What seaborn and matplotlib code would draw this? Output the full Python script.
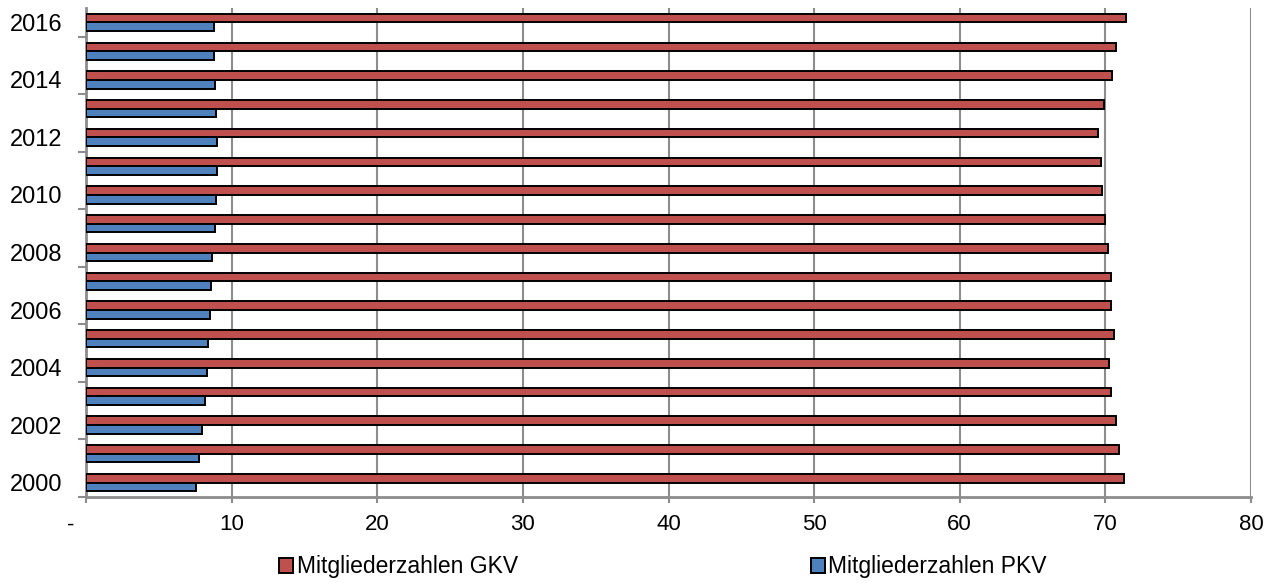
import matplotlib
matplotlib.use("Agg")
import matplotlib.pyplot as plt
import matplotlib.transforms as mtransforms
from matplotlib.ticker import FixedLocator
import numpy as np
import pandas as pd
import seaborn as sns

# Mitgliederzahlen in Millionen, Jahre 2000 bis 2016
years = [2000, 2001, 2002, 2003, 2004, 2005, 2006, 2007, 2008,
         2009, 2010, 2011, 2012, 2013, 2014, 2015, 2016]
gkv = [71.25, 70.96, 70.76, 70.40, 70.25, 70.56, 70.36, 70.36, 70.20,
       70.00, 69.80, 69.70, 69.50, 69.93, 70.46, 70.70, 71.40]
pkv = [7.54, 7.74, 7.95, 8.14, 8.30, 8.39, 8.51, 8.58, 8.67,
       8.85, 8.94, 9.01, 8.99, 8.94, 8.87, 8.80, 8.78]
series_names = ["Mitgliederzahlen GKV", "Mitgliederzahlen PKV"]
x_ticks = [0, 10, 20, 30, 40, 50, 60, 70, 80]
x_tick_labels = ["-", "10", "20", "30", "40", "50", "60", "70", "80"]

colors = ["#C0504D", "#4F81BD"]
grid_gray = "#8C8C8C"

sns.set_theme(style="white")
plt.rcParams["font.family"] = ["Liberation Sans", "DejaVu Sans"]
plt.rcParams["text.color"] = "black"
plt.rcParams["xtick.color"] = "black"
plt.rcParams["ytick.color"] = "black"

df = pd.DataFrame({
    "Jahr": [str(y) for y in years] * 2,
    "Wert": gkv + pkv,
    "Reihe": [series_names[0]] * len(years) + [series_names[1]] * len(years),
})
order = [str(y) for y in reversed(years)]

fig = plt.figure(figsize=(12.71, 5.83), dpi=100)
ax = fig.add_axes([86 / 1271, 1 - 497 / 583, (1251 - 86) / 1271, (497 - 8) / 583])

sns.barplot(data=df, y="Jahr", x="Wert", hue="Reihe", order=order,
            hue_order=series_names, palette=colors, saturation=1, orient="h",
            width=0.6, edgecolor="black", linewidth=1.4, ax=ax,
            errorbar=None, zorder=3)

ax.set_xlim(0, 80)
ax.set_ylim(len(order) - 0.5, -0.5)
ax.set_xlabel("")
ax.set_ylabel("")

# x axis
ax.set_xticks(x_ticks)
ax.set_xticklabels(x_tick_labels, fontsize=16, color="black")
ax.tick_params(axis="x", which="major", direction="out", length=4.5,
               width=1.5, color=grid_gray, labelcolor="black", pad=8, bottom=True)
zero_lbl = ax.get_xticklabels()[0]
zero_lbl.set_transform(zero_lbl.get_transform() +
                       mtransforms.ScaledTranslation(-15 / 100, 0, fig.dpi_scale_trans))
ax.xaxis.grid(True, color=grid_gray, linewidth=1.5, zorder=0)
ax.yaxis.grid(False)
ax.set_axisbelow(True)

# y axis: labels on every second year, ticks between category groups
label_pos = [i for i, y in enumerate(order) if int(y) % 2 == 0]
ax.set_yticks(label_pos)
ax.set_yticklabels([order[i] for i in label_pos], fontsize=17, color="black")
ax.tick_params(axis="y", which="major", length=0, pad=17, labelcolor="black")
ax.yaxis.set_minor_locator(FixedLocator([p + 0.5 for p in label_pos]))
ax.tick_params(axis="y", which="minor", direction="out", length=6,
               width=1.5, color=grid_gray, left=True)

for side in ["top", "right"]:
    ax.spines[side].set_visible(False)
for side in ["left", "bottom"]:
    ax.spines[side].set_color(grid_gray)
    ax.spines[side].set_linewidth(2)

# legend below the plot
handles, labels = ax.get_legend_handles_labels()
ax.get_legend().remove()
leg = fig.legend(handles, labels, loc="center",
                 bbox_to_anchor=(663 / 1271, 1 - 567 / 583),
                 ncol=2, frameon=False, fontsize=16.5, handlelength=0.6,
                 handleheight=0.6, handletextpad=0.15, columnspacing=12.8,
                 borderaxespad=0)
for t in leg.get_texts():
    t.set_color("black")

fig.savefig("out.png", dpi=100)
